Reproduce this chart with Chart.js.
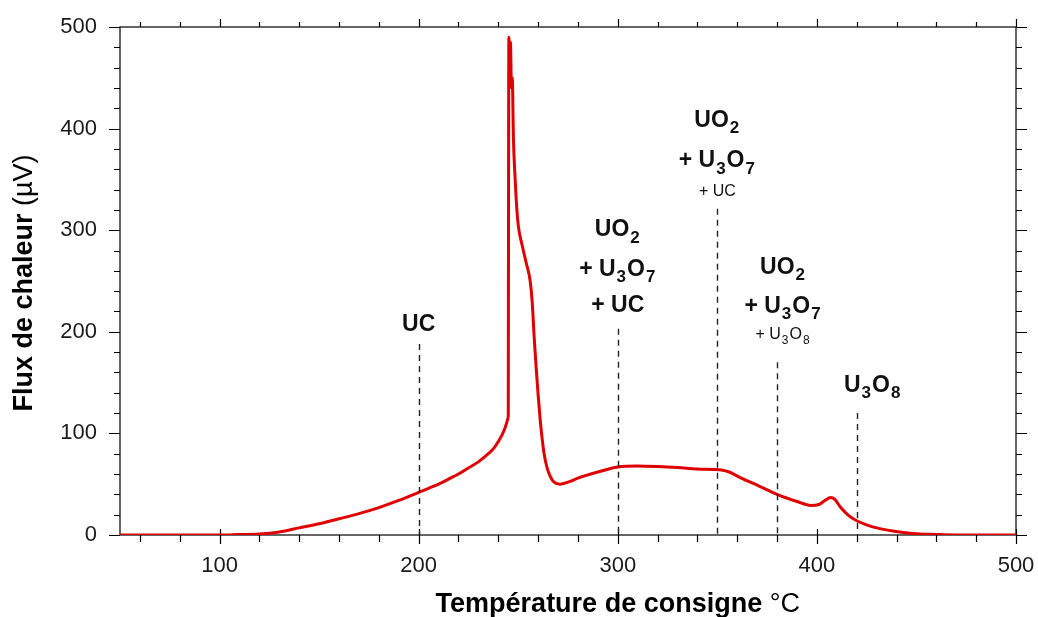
<!DOCTYPE html>
<html>
<head>
<meta charset="utf-8">
<script src="https://cdn.jsdelivr.net/npm/chart.js@4.4.1/dist/chart.umd.min.js"></script>
<style>
  html, body { margin: 0; padding: 0; background: #fff; }
  #wrap { width: 1038px; height: 617px; position: relative; }
</style>
</head>
<body>
<div id="wrap"><canvas id="dsc"></canvas></div>
<script>
// temperature (°C) and heat flux (µV)
const temps = [50, 100, 110, 120, 130, 140, 150, 160, 170, 180, 190, 200, 205, 210, 215, 220, 225, 230, 235, 238, 240, 242, 243.5, 245,
  245.3, 245.7, 246.1, 246.6, 247, 247.6, 248.2, 249, 250, 252, 254, 256, 257, 258, 259, 260, 261, 262, 263, 264.5, 266, 268, 271,
  275, 280, 290, 300, 310, 320, 330, 340, 348, 352, 356, 362, 370, 380, 390, 397, 401, 404, 407, 409, 412, 416, 420,
  425, 430, 438, 448, 460, 470, 500];
const flux = [0, 0, 0.5, 1, 3, 7, 11, 16, 21, 27, 34, 42, 46, 50, 55, 60, 66, 72, 80, 86, 92, 99, 106, 116,
  490, 470, 485, 440, 450, 390, 360, 330, 305, 285, 268, 250, 230, 195, 165, 138, 114, 95, 80, 66, 58, 52, 50,
  52, 56, 62, 67, 68, 67.5, 66.5, 65, 64.5, 64, 62, 56, 49, 40, 33, 29, 30, 34, 37, 35, 27, 19, 14,
  10, 7, 4, 1.5, 0.5, 0, 0];
// onset of the exothermic jump (the curve is drawn as two pieces meeting here)
const onsetTemp = 245;

const xTicks = [60, 80, 100, 120, 140, 160, 180, 200, 220, 240, 260, 280, 300, 320, 340, 360, 380, 400, 420, 440, 460, 480, 500];
const yTicks = [0, 20, 40, 60, 80, 100, 120, 140, 160, 180, 200, 220, 240, 260, 280, 300, 320, 340, 360, 380, 400, 420, 440, 460, 480, 500];

// phase markers: dashed line position and top, then label lines (text, value, small?)
const markerX = [200, 300, 350, 380, 420];
const markerTop = [188, 203, 321, 170, 120];
const labelX = [200, 300, 350, 383, 428];
const markerLabels = [
  [['UC', 209, false]],
  [['UO_2', 302, false], ['+ U_3O_7', 263.5, false], ['+ UC', 228, false]],
  [['UO_2', 410, false], ['+ U_3O_7', 370, false], ['+ UC', 339.5, true]],
  [['UO_2', 265.5, false], ['+ U_3O_7', 227, false], ['+ U_3O_8', 198.5, true]],
  [['U_3O_8', 149, false]]
];

const FONT = '"Liberation Sans", Arial, sans-serif';

// draw text with _d subscripts, centred on cx, cap centre on cy
function drawRich(ctx, str, cx, cy, size, bold) {
  const w8 = bold ? 'bold ' : '';
  const subSize = Math.round(size * 0.74);
  const parts = str.split(/(_\d)/).filter(p => p.length);
  let total = 0;
  const segs = parts.map(p => {
    const sub = p[0] === '_';
    const txt = sub ? p.slice(1) : p;
    ctx.font = w8 + (sub ? subSize : size) + 'px ' + FONT;
    const w = ctx.measureText(txt).width + (sub ? 2 : 0);
    total += w;
    return { txt, sub, w };
  });
  let x = cx - total / 2;
  const base = cy + size * 0.36;
  ctx.textAlign = 'left';
  ctx.textBaseline = 'alphabetic';
  segs.forEach(s => {
    ctx.font = w8 + (s.sub ? subSize : size) + 'px ' + FONT;
    ctx.fillText(s.txt, x + (s.sub ? 1 : 0), base + (s.sub ? size * 0.28 : 0));
    x += s.w;
  });
}

const framePlugin = {
  id: 'frame',
  beforeDatasetsDraw(chart) {
    const { ctx, chartArea: a, scales: { x, y } } = chart;
    ctx.save();
    ctx.strokeStyle = '#000';
    ctx.lineWidth = 1.2;
    ctx.strokeRect(a.left, a.top, a.right - a.left, a.bottom - a.top);
    ctx.beginPath();
    yTicks.forEach(v => {
      const py = Math.round(y.getPixelForValue(v)) + 0.5;
      const len = v % 100 === 0 ? 11 : 6;
      ctx.moveTo(a.left - len, py); ctx.lineTo(a.left, py);
      ctx.moveTo(a.right, py); ctx.lineTo(a.right + len, py);
    });
    xTicks.forEach(v => {
      const px = Math.round(x.getPixelForValue(v)) + 0.5;
      if (v % 100 === 0) {
        ctx.moveTo(px, a.bottom - 6); ctx.lineTo(px, a.bottom + 9);
        ctx.moveTo(px, a.top); ctx.lineTo(px, a.top - 8);
      } else {
        ctx.moveTo(px, a.bottom); ctx.lineTo(px, a.bottom + 7);
        ctx.moveTo(px, a.top); ctx.lineTo(px, a.top - 5);
      }
    });
    ctx.stroke();
    ctx.restore();
  },
  afterDatasetsDraw(chart) {
    const { ctx, scales: { x, y } } = chart;
    ctx.save();
    // dashed marker lines
    ctx.strokeStyle = '#222';
    ctx.lineWidth = 1.4;
    ctx.setLineDash([6, 5]);
    markerX.forEach((mx, i) => {
      const px = Math.round(x.getPixelForValue(mx)) + 0.5;
      ctx.beginPath();
      ctx.moveTo(px, y.getPixelForValue(markerTop[i]));
      ctx.lineTo(px, y.getPixelForValue(0));
      ctx.stroke();
    });
    ctx.setLineDash([]);
    // labels
    ctx.fillStyle = '#111';
    markerLabels.forEach((lines, i) => {
      const px = x.getPixelForValue(labelX[i]);
      lines.forEach(([txt, val, small]) => {
        drawRich(ctx, txt, px, y.getPixelForValue(val), small ? 16 : 23, !small);
      });
    });
    ctx.restore();
  },
  afterDraw(chart) {
    const { ctx, scales: { x } } = chart;
    ctx.save();
    ctx.fillStyle = '#000';
    ctx.textBaseline = 'alphabetic';
    // x title
    const xb = 'Température de consigne ';
    const xr = '°C';
    ctx.font = 'bold 27px ' + FONT;
    const w1 = ctx.measureText(xb).width;
    ctx.font = '27px ' + FONT;
    const w2 = ctx.measureText(xr).width;
    let sx = x.getPixelForValue(300) - (w1 + w2) / 2;
    ctx.font = 'bold 27px ' + FONT;
    ctx.textAlign = 'left';
    ctx.fillText(xb, sx, 612);
    ctx.font = '27px ' + FONT;
    ctx.fillText(xr, sx + w1, 612);
    // y title
    ctx.translate(32, 283);
    ctx.rotate(-Math.PI / 2);
    const yb = 'Flux de chaleur ';
    const yr = '(µV)';
    ctx.font = 'bold 27px ' + FONT;
    const v1 = ctx.measureText(yb).width;
    ctx.font = '27px ' + FONT;
    const v2 = ctx.measureText(yr).width;
    sx = -(v1 + v2) / 2;
    ctx.font = 'bold 27px ' + FONT;
    ctx.fillText(yb, sx, 0);
    ctx.font = '27px ' + FONT;
    ctx.fillText(yr, sx + v1, 0);
    ctx.restore();
  }
};

const points = temps.map((t, i) => ({ x: t, y: flux[i] }));
const cut = temps.indexOf(onsetTemp);
const curveStyle = {
  borderColor: '#e00000',
  borderWidth: 3,
  pointRadius: 0,
  cubicInterpolationMode: 'monotone',
  borderJoinStyle: 'round',
  fill: false
};

new Chart(document.getElementById('dsc'), {
  type: 'line',
  data: {
    datasets: [
      { ...curveStyle, data: points.slice(0, cut + 1) },
      { ...curveStyle, data: points.slice(cut) }
    ]
  },
  options: {
    responsive: true,
    maintainAspectRatio: false,
    animation: false,
    events: [],
    layout: { padding: { top: 27, right: 22, left: 0, bottom: 0 } },
    plugins: { legend: { display: false }, tooltip: { enabled: false } },
    scales: {
      x: {
        type: 'linear',
        min: 50,
        max: 500,
        grid: { display: false, drawTicks: false },
        border: { display: false },
        afterBuildTicks: s => { s.ticks = xTicks.map(v => ({ value: v })); },
        afterFit: s => { s.height = 82; s.paddingLeft = 0; s.paddingRight = 0; },
        ticks: {
          autoSkip: false,
          maxRotation: 0,
          padding: 18,
          color: '#1a1a1a',
          font: { family: FONT, size: 22 },
          callback: v => (v % 100 === 0 ? String(v) : '')
        }
      },
      y: {
        type: 'linear',
        min: 0,
        max: 500,
        grid: { display: false, drawTicks: false },
        border: { display: false },
        afterBuildTicks: s => { s.ticks = yTicks.map(v => ({ value: v })); },
        afterFit: s => { s.width = 120; s.paddingTop = 0; s.paddingBottom = 0; },
        ticks: {
          autoSkip: false,
          padding: 23,
          color: '#1a1a1a',
          font: { family: FONT, size: 22 },
          callback: v => (v % 100 === 0 ? String(v) : '')
        }
      }
    }
  },
  plugins: [framePlugin]
});
</script>
</body>
</html>
